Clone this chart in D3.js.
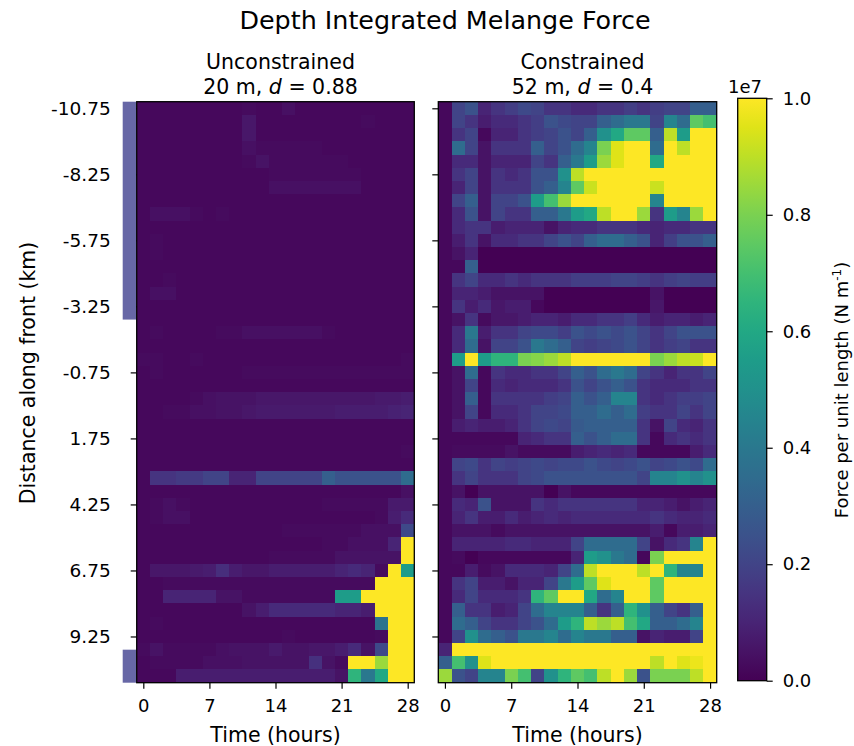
<!DOCTYPE html>
<html>
<head>
<meta charset="utf-8">
<script src="https://cdn.jsdelivr.net/npm/d3@7"></script>
<style>
  body { margin: 0; background: #fff; }
  text { font-family: "DejaVu Sans", sans-serif; fill: #000; }
</style>
</head>
<body>
<svg id="chart" width="854" height="746"></svg>
<script>
// time of each column (hours) and distance of each row (km)
const timesHours = [0, 1.4, 2.8, 4.2, 5.6, 7, 8.4, 9.8, 11.2, 12.6, 14, 15.4, 16.8, 18.2, 19.6, 21, 22.4, 23.8, 25.2, 26.6, 28]
const distanceKm = [-10.75, -10.25, -9.75, -9.25, -8.75, -8.25, -7.75, -7.25, -6.75, -6.25, -5.75, -5.25, -4.75, -4.25,
  -3.75, -3.25, -2.75, -2.25, -1.75, -1.25, -0.75, -0.25, 0.25, 0.75, 1.25, 1.75, 2.25, 2.75, 3.25, 3.75, 4.25, 4.75,
  5.25, 5.75, 6.25, 6.75, 7.25, 7.75, 8.25, 8.75, 9.25, 9.75, 10.25, 10.75]
const yTickValues = [-10.75, -8.25, -5.75, -3.25, -0.75, 1.75, 4.25, 6.75, 9.25]
const yTickLabels = ['-10.75', '-8.25', '-5.75', '-3.25', '-0.75', '1.75', '4.25', '6.75', '9.25']
const xTickValues = [0, 7, 14, 21, 28]
const cbarTicks = [0, 0.2e7, 0.4e7, 0.6e7, 0.8e7, 1e7]
const cbarTickLabels = ['0.0', '0.2', '0.4', '0.6', '0.8', '1.0']
const shadedRangesKm = [[-11, -2.75], [9.75, 11]]

// force per unit length, units of 1e5 N m^-1 (rows = distance, cols = time)
const forceUnconstrained = [
  [2,2,2,2,2,2,2,2,3,2,2,4,2,2,2,2,2,2,2,2,2],
  [2,2,2,2,2,2,2,2,6,2,2,2,2,2,2,2,2,3,2,2,2],
  [2,2,2,2,2,2,2,2,6,2,2,2,2,2,2,2,2,2,2,2,2],
  [2,2,2,2,2,2,2,2,4,3,3,3,3,3,2,2,2,2,2,2,2],
  [2,2,2,2,2,2,2,2,3,5,3,3,3,3,3,3,2,2,2,2,2],
  [2,2,2,2,2,2,2,2,2,2,3,3,3,3,3,3,3,2,2,2,2],
  [2,2,2,2,2,2,2,2,2,2,4,4,4,4,4,4,4,2,2,2,2],
  [2,2,2,2,2,2,2,2,2,2,2,2,2,2,2,2,2,2,2,2,2],
  [2,4,4,4,3,2,3,2,2,2,2,2,2,2,2,2,2,2,2,2,2],
  [2,2,2,2,2,2,2,2,2,2,2,2,2,2,2,2,2,2,2,2,2],
  [2,3,2,2,2,2,2,2,2,2,2,2,2,2,2,2,2,2,2,2,2],
  [2,3,2,2,2,2,2,2,2,2,2,2,2,2,2,2,2,2,2,2,2],
  [2,2,2,2,2,2,2,2,2,2,2,2,2,2,2,2,2,2,2,2,2],
  [2,2,3,2,2,2,2,2,2,2,2,2,2,2,2,2,2,2,2,2,2],
  [2,4,4,2,2,2,2,2,2,2,2,2,2,2,2,2,2,2,2,2,2],
  [2,2,2,2,2,2,2,2,2,2,2,2,2,2,2,2,2,2,2,2,2],
  [2,2,2,2,2,2,2,2,2,2,2,2,2,2,2,2,2,2,2,2,2],
  [2,3,2,2,2,2,3,3,4,4,4,4,4,4,3,2,2,2,2,2,2],
  [2,2,2,2,2,2,2,2,2,2,2,2,2,2,2,2,2,2,2,2,2],
  [3,3,2,2,3,2,2,2,2,2,2,2,2,2,2,2,2,2,2,2,3],
  [2,3,2,2,2,2,2,2,3,3,3,3,3,3,3,3,3,3,3,3,3],
  [2,2,2,2,2,2,2,2,2,2,2,2,2,2,2,2,2,2,2,2,2],
  [2,2,2,2,3,4,5,5,5,6,6,6,6,6,6,6,6,6,7,7,8],
  [2,2,3,3,4,4,5,5,6,7,7,7,7,7,7,8,8,8,8,9,10],
  [2,2,2,2,2,2,2,2,2,2,2,2,2,2,2,2,2,2,2,2,2],
  [2,2,2,2,2,2,2,2,2,2,2,2,2,2,2,2,2,2,2,2,2],
  [2,2,2,2,2,2,2,2,2,2,2,2,2,2,2,2,2,2,2,2,3],
  [2,2,2,2,2,2,2,2,2,2,2,2,2,2,2,2,2,2,2,2,2],
  [2,15,15,17,17,20,20,10,10,20,20,20,20,20,30,25,25,25,25,25,35],
  [2,2,2,2,2,2,2,2,2,2,2,2,2,2,2,2,2,2,2,2,4],
  [2,3,4,3,2,2,2,2,2,2,2,2,2,2,3,3,3,3,3,7,7],
  [2,3,4,4,2,2,2,2,2,2,2,2,2,2,2,2,2,2,3,8,12],
  [2,2,2,2,2,2,2,2,2,2,2,3,3,3,3,3,3,4,4,4,22],
  [2,2,2,2,2,2,2,2,2,2,2,2,2,2,3,3,4,4,4,10,100],
  [2,2,2,2,2,2,2,2,2,2,3,3,3,3,3,5,5,5,5,5,100],
  [2,6,6,6,7,8,13,8,6,6,8,8,8,8,8,10,12,10,3,100,55],
  [2,2,3,3,3,3,3,3,3,3,3,3,3,3,3,3,3,3,100,100,100],
  [2,2,10,10,10,10,5,5,3,3,3,3,3,3,3,55,55,100,100,100,100],
  [2,2,2,2,2,2,2,2,5,8,12,12,12,12,12,10,10,8,100,100,100],
  [2,3,2,2,2,2,2,2,2,2,2,2,2,2,2,2,2,2,38,100,100],
  [2,2,2,2,2,2,2,2,2,2,2,3,2,2,2,2,2,2,3,100,100],
  [3,5,3,3,3,3,4,5,5,5,7,5,5,6,6,8,12,5,22,100,100],
  [2,3,3,3,3,4,4,4,5,5,5,5,5,14,5,3,100,100,85,100,100],
  [2,2,2,8,8,8,8,8,8,8,8,8,8,8,8,5,65,40,60,100,100]
]

const forceConstrained = [
  [2,20,25,10,15,18,22,20,15,15,12,12,15,15,18,15,18,20,20,30,30],
  [2,20,15,8,12,12,15,18,25,22,20,20,30,35,40,40,20,45,35,75,70],
  [2,15,20,2,10,10,15,18,20,25,20,30,50,60,75,75,30,90,55,100,100],
  [2,35,20,5,15,15,15,30,20,25,35,45,80,95,100,100,35,100,90,100,100],
  [2,12,12,5,10,10,10,20,15,30,40,55,85,95,100,100,60,100,100,100,100],
  [2,15,20,5,15,12,15,25,25,50,90,100,100,100,100,100,100,100,100,100,100],
  [2,10,20,5,15,15,15,25,30,45,75,92,100,100,100,100,92,100,100,100,100],
  [2,20,30,5,20,20,25,55,70,85,100,100,100,100,100,100,45,100,100,100,100],
  [2,12,25,5,20,15,15,30,30,40,55,60,90,100,100,85,15,55,45,85,100],
  [2,12,15,15,8,10,10,10,5,10,12,12,15,15,15,12,10,12,12,15,15],
  [2,8,15,5,12,12,15,15,20,25,20,30,35,35,30,25,10,18,25,25,30],
  [2,5,10,0,0,0,0,0,0,0,0,0,0,0,0,0,0,0,0,0,0],
  [2,2,30,0,0,0,0,0,0,0,0,0,0,0,0,0,0,0,0,0,0],
  [2,15,20,12,12,15,12,15,15,15,18,18,18,20,20,18,15,18,20,18,18],
  [2,10,10,8,5,5,5,5,0,0,0,0,0,0,0,0,5,0,0,0,0],
  [2,15,8,12,6,8,8,2,0,0,0,0,0,0,0,0,6,0,0,0,0],
  [2,5,15,3,6,6,8,10,10,8,12,12,15,15,18,12,8,10,10,8,10],
  [2,12,40,8,15,15,20,22,22,18,25,22,25,22,25,20,15,20,25,25,25],
  [2,12,35,5,20,20,25,40,35,30,20,18,20,22,25,20,15,18,20,15,15],
  [2,55,100,55,65,65,80,82,85,90,100,100,100,100,100,100,80,85,90,92,100],
  [2,5,35,2,15,12,12,15,15,20,30,25,35,40,35,20,15,10,15,15,20],
  [2,5,20,2,12,10,12,12,12,15,25,20,25,30,25,15,12,12,12,15,15],
  [2,5,30,2,15,15,15,15,18,20,30,25,30,45,45,15,12,15,18,18,20],
  [2,5,20,2,12,12,15,20,20,22,30,30,35,30,35,18,15,15,20,15,20],
  [2,8,10,8,8,10,15,20,22,20,28,30,30,30,30,15,5,20,12,10,15],
  [2,2,2,2,2,2,10,12,15,15,30,25,30,35,35,15,2,12,15,12,15],
  [2,3,3,3,3,5,3,3,3,3,8,10,12,10,12,2,2,2,2,8,12],
  [2,20,22,15,20,18,20,22,20,22,22,25,22,20,22,25,20,22,25,22,35],
  [2,15,20,15,15,15,20,22,25,25,25,25,25,25,25,20,45,45,50,45,50],
  [2,5,0,5,5,5,5,5,0,5,2,2,2,2,2,2,2,2,2,2,2],
  [2,12,10,25,5,5,5,15,12,15,15,15,15,15,15,10,10,8,5,8,10],
  [2,10,15,8,8,12,8,10,12,10,12,12,12,12,12,12,15,12,10,10,12],
  [2,5,5,5,3,5,5,5,5,5,5,5,5,5,5,5,8,2,8,8,10],
  [2,10,10,10,10,12,12,10,10,10,20,35,35,35,35,20,5,12,15,45,100],
  [2,3,0,2,2,2,2,2,2,2,10,55,50,40,35,2,80,100,100,100,100],
  [2,2,8,3,5,12,12,12,10,20,35,90,100,100,100,90,100,65,45,45,100],
  [2,15,20,8,8,5,10,10,20,40,55,75,95,100,100,100,75,100,100,100,100],
  [2,12,20,12,12,12,15,65,75,100,100,60,35,45,100,100,75,100,100,100,100],
  [2,30,15,15,8,10,20,35,45,45,45,30,15,30,65,50,30,20,15,30,100],
  [2,35,30,20,15,15,20,25,35,55,65,90,85,90,70,60,30,30,35,45,100],
  [2,20,50,35,30,25,40,40,45,35,45,40,40,30,30,5,10,8,8,20,100],
  [10,100,100,100,100,100,100,100,100,100,100,100,100,100,100,100,100,100,100,100,100],
  [30,70,50,95,100,100,100,100,100,100,100,100,100,100,100,100,90,100,95,97,100],
  [85,25,20,45,45,80,70,20,50,65,75,70,90,100,85,25,80,80,80,90,100]
]

const svg = d3.select('#chart')
const plotTop = 101.7, plotBottom = 682.7
const halfStep = 0.7, halfRow = 0.25

var y = d3.scaleLinear().domain([-11, 11]).range([plotTop, plotBottom])
var color = d3.scaleSequential(d3.interpolateViridis).domain([0, 1e7]).clamp(true)

svg.append('text')
  .attr('x', 445).attr('y', 29)
  .attr('text-anchor', 'middle')
  .style('font-size', '25.4px')
  .text('Depth Integrated Melange Force')

var panels = [
  { x0: 136.7, x1: 414.3, data: forceUnconstrained, name: 'Unconstrained', depth: '20 m', d: '0.88', labels: true },
  { x0: 438.3, x1: 716.7, data: forceConstrained, name: 'Constrained', depth: '52 m', d: '0.4', labels: false }
]

panels.forEach(function(p) {
  var x = d3.scaleLinear().domain([-halfStep, 28 + halfStep]).range([p.x0, p.x1])
  var g = svg.append('g').attr('shape-rendering', 'crispEdges')

  distanceKm.forEach(function(dist, i) {
    var y0 = Math.round(y(dist - halfRow)), y1 = Math.round(y(dist + halfRow))
    g.selectAll(null)
      .data(p.data[i])
      .enter()
      .append('rect')
      .attr('x', (v, j) => Math.round(x(timesHours[j] - halfStep)))
      .attr('width', (v, j) => Math.round(x(timesHours[j] + halfStep)) - Math.round(x(timesHours[j] - halfStep)))
      .attr('y', y0)
      .attr('height', y1 - y0)
      .attr('fill', v => color(v * 1e5))
  })

  var yAxis = d3.axisLeft(y).tickValues(yTickValues).tickSize(6)
    .tickFormat((d, i) => p.labels ? yTickLabels[i] : '')
    .tickPadding(20)
  var ya = svg.append('g').attr('transform', 'translate(' + p.x0 + ',0)').call(yAxis)
  ya.select('.domain').remove()
  ya.selectAll('text').style('font-size', '18.5px').attr('fill', '#000')
  ya.selectAll('line').attr('stroke-width', 1.2)

  var xAxis = d3.axisBottom(x).tickValues(xTickValues).tickSize(6).tickPadding(10.5)
  var xa = svg.append('g').attr('transform', 'translate(0,' + plotBottom + ')').call(xAxis)
  xa.select('.domain').remove()
  xa.selectAll('text').style('font-size', '18px').attr('fill', '#000')
  xa.selectAll('line').attr('stroke-width', 1.2)

  if (p.labels) {
    shadedRangesKm.forEach(function(r) {
      svg.append('rect')
        .attr('x', p.x0 - 14).attr('width', 13.3)
        .attr('y', y(r[0])).attr('height', y(r[1]) - y(r[0]))
        .attr('fill', '#6767a6')
    })
  }

  svg.append('rect')
    .attr('x', p.x0).attr('y', plotTop)
    .attr('width', p.x1 - p.x0).attr('height', plotBottom - plotTop)
    .attr('fill', 'none').attr('stroke', '#000').attr('stroke-width', 1.3)

  var cx = (p.x0 + p.x1) / 2 + 5
  svg.append('text').attr('x', cx).attr('y', 69)
    .attr('text-anchor', 'middle').style('font-size', '20.5px')
    .text(p.name)
  var t2 = svg.append('text').attr('x', cx).attr('y', 94)
    .attr('text-anchor', 'middle').style('font-size', '20.5px')
  t2.append('tspan').text(p.depth + ', ')
  t2.append('tspan').style('font-style', 'italic').text('d')
  t2.append('tspan').text(' = ' + p.d)

  svg.append('text')
    .attr('x', (p.x0 + p.x1) / 2).attr('y', 742)
    .attr('text-anchor', 'middle').style('font-size', '20.5px')
    .text('Time (hours)')
})

svg.append('text')
  .attr('transform', 'translate(35,373) rotate(-90)')
  .attr('text-anchor', 'middle').style('font-size', '20.5px')
  .text('Distance along front (km)')

// colorbar
var cbX = 737.7, cbW = 29, cbTop = 98.3, cbBottom = 680.7
var defs = svg.append('defs')
var grad = defs.append('linearGradient').attr('id', 'viridis')
  .attr('x1', 0).attr('y1', 1).attr('x2', 0).attr('y2', 0)
d3.range(0, 1.0001, 0.05).forEach(function(t) {
  grad.append('stop').attr('offset', t).attr('stop-color', d3.interpolateViridis(t))
})
svg.append('rect')
  .attr('x', cbX).attr('y', cbTop).attr('width', cbW).attr('height', cbBottom - cbTop)
  .attr('fill', 'url(#viridis)').attr('stroke', '#000').attr('stroke-width', 1.3)

var cy = d3.scaleLinear().domain([0, 1e7]).range([cbBottom, cbTop])
var ca = svg.append('g').attr('transform', 'translate(' + (cbX + cbW) + ',0)')
  .call(d3.axisRight(cy).tickValues(cbarTicks).tickSize(6).tickPadding(10)
    .tickFormat((d, i) => cbarTickLabels[i]))
ca.select('.domain').remove()
ca.selectAll('text').style('font-size', '18px').attr('fill', '#000')
ca.selectAll('line').attr('stroke-width', 1.2)

svg.append('text').attr('x', 728).attr('y', 92.5)
  .style('font-size', '18px').text('1e7')

var cl = svg.append('text')
  .attr('transform', 'translate(848,390) rotate(-90)')
  .attr('text-anchor', 'middle').style('font-size', '18px')
cl.append('tspan').text('Force per unit length (N m')
cl.append('tspan').attr('dy', -7).style('font-size', '12px').text('-1')
cl.append('tspan').attr('dy', 7).text(')')
</script>
</body>
</html>
